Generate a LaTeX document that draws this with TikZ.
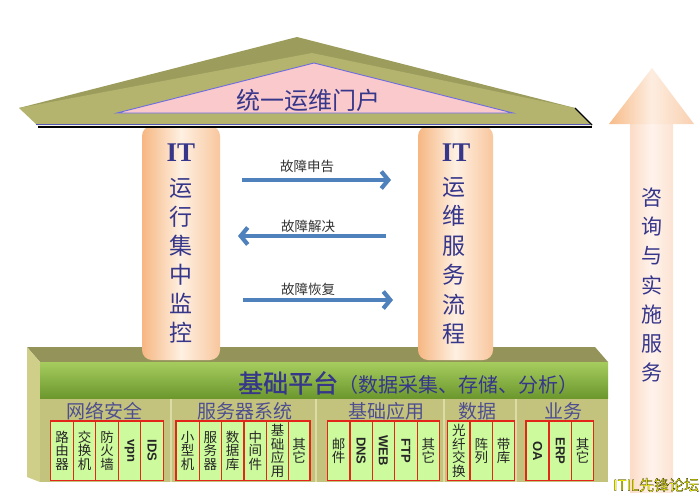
\documentclass[tikz,border=0pt]{standalone}
\usepackage{fontspec}
\setmainfont{Noto Sans CJK SC}
\newfontfamily\latinsans{Liberation Sans}
\newfontfamily\latinserif{Liberation Serif}
\newfontfamily\cjkbold[FakeBold=1.2]{Noto Sans CJK SC}
\newfontfamily\wmfont[FakeBold=1.3]{Noto Sans CJK SC}
\usetikzlibrary{arrows.meta}

\definecolor{navy}{HTML}{36368A}
\definecolor{catnavy}{HTML}{4E4E90}
\definecolor{roofdark}{HTML}{9C9C5C}
\definecolor{roofface}{HTML}{B4B46F}
\definecolor{pinkfill}{HTML}{F9C9CB}
\definecolor{pinkline}{HTML}{6C6CE0}
\definecolor{pilL}{HTML}{F6B782}
\definecolor{pilM}{HTML}{FEF0E2}
\definecolor{pilR}{HTML}{F8C79E}
\definecolor{arrowblue}{HTML}{4F81BD}
\definecolor{basetop}{HTML}{94945A}
\definecolor{baseleft}{HTML}{CFCF8A}
\definecolor{basefront}{HTML}{C4C37D}
\definecolor{greenT}{HTML}{A6CC5E}
\definecolor{greenB}{HTML}{6C982E}
\definecolor{cellfill}{HTML}{CCFA9C}
\definecolor{cellred}{HTML}{E3261A}
\definecolor{divider}{HTML}{DCDCA6}
\definecolor{shaftL}{HTML}{FBDCC6}
\definecolor{shaftM}{HTML}{FFF3EC}
\definecolor{shaftR}{HTML}{FCE3D3}
\definecolor{headL}{HTML}{F7BB88}
\definecolor{headM}{HTML}{FDEDE0}
\definecolor{headR}{HTML}{F9D0B0}
\definecolor{wmyellow}{HTML}{FFFF00}

\newcommand\lat[1]{\rotatebox{-90}{\latinsans\bfseries\fontsize{13}{13}\selectfont #1}}
\newcommand\cellnode[4]{\node[cellbox, minimum width={(#3-#2)*1pt}] (#1) at ({(#2+#3)/2},450.75) {#4};}

\tikzset{
  vtext/.style={align=center, inner sep=0pt, text=navy},
  cellbox/.style={draw=cellred, line width=1.2pt, fill=cellfill, minimum height=59.5pt,
    inner sep=0pt, align=center, text=black!85, font=\fontsize{13.5}{13.5}\selectfont},
  catlabel/.style={inner sep=0pt, text=catnavy, font=\fontsize{19}{19}\selectfont},
  flowarrow/.style={draw=arrowblue, line width=4.2pt, -{Straight Barb[length=7pt,width=17pt]}},
  flowlabel/.style={inner sep=0pt, text=black!80, font=\fontsize{13.5}{13.5}\selectfont},
  pillar/.style={rounded corners=10pt, left color=pilL, right color=pilR, middle color=pilM}
}

\begin{document}
\begin{tikzpicture}[x=1pt,y=-1pt]
\useasboundingbox (0,0) rectangle (700,495);
\fill[white] (0,0) rectangle (700,495);

% big upward arrow
\shade[left color=shaftL, right color=shaftR, middle color=shaftM] (630,123) rectangle (673,492);
\shade[left color=headL, right color=headR, middle color=headM] (652,68) -- (694,124) -- (609,124) -- cycle;
\node[vtext, font=\fontsize{21}{29.3}\selectfont] (consult) at (652,285) {咨\\询\\与\\实\\施\\服\\务};

% base platform
\fill[basetop] (27,347) -- (595,347) -- (608,362) -- (40,362) -- cycle;
\fill[baseleft] (27,347) -- (40,362) -- (40,482) -- (27,477) -- cycle;
\fill[basefront] (40,362) rectangle (608,482);
\shade[top color=greenT, bottom color=greenB] (40,362) rectangle (608,398);
\foreach \dx in {171,316,444,516} \draw[divider, line width=1.5pt] (\dx,399) -- (\dx,482);

\node[anchor=west, inner sep=0pt, text=navy] (platform) at (238,383)
  {{\cjkbold\fontsize{25}{25}\selectfont 基础平台}{\fontsize{20}{20}\selectfont （数据采集、存储、分析）}};

\node[catlabel] (catnet) at (104,411) {网络安全};
\node[catlabel] (catsrv) at (245,411) {服务器系统};
\node[catlabel] (catapp) at (386,411) {基础应用};
\node[catlabel] (catdat) at (477,411) {数据};
\node[catlabel] (catbiz) at (563,411) {业务};

\cellnode{c1}{50.7}{73.3}{路\\由\\器}
\cellnode{c2}{73.3}{95.7}{交\\换\\机}
\cellnode{c3}{95.7}{118.3}{防\\火\\墙}
\cellnode{c4}{118.3}{140.7}{\lat{vpn}}
\cellnode{c5}{140.7}{163.3}{\lat{IDS}}

\cellnode{s1}{176}{199.3}{小\\型\\机}
\cellnode{s2}{199.3}{221.3}{服\\务\\器}
\cellnode{s3}{221.3}{244}{数\\据\\库}
\cellnode{s4}{244}{266.7}{中\\间\\件}
\cellnode{s5}{266.7}{288.3}{基\\础\\应\\用}
\cellnode{s6}{288.3}{310}{其\\它}

\cellnode{a1}{327.3}{350}{邮\\件}
\cellnode{a2}{350}{372.3}{\lat{DNS}}
\cellnode{a3}{372.3}{394.3}{\lat{WEB}}
\cellnode{a4}{394.3}{417.3}{\lat{FTP}}
\cellnode{a5}{417.3}{439.3}{其\\它}

\cellnode{d1}{447.7}{470}{光\\纤\\交\\换}
\cellnode{d2}{470}{492.7}{阵\\列}
\cellnode{d3}{492.7}{514.3}{带\\库}

\cellnode{b1}{526}{549}{\lat{OA}}
\cellnode{b2}{549}{571.7}{\lat{ERP}}
\cellnode{b3}{571.7}{593.3}{其\\它}

% pillars
\shade[pillar] (142,126) rectangle (220,360);
\shade[pillar] (418,126) rectangle (493,360);
\node[inner sep=0pt, text=navy, font=\latinserif\bfseries\fontsize{27}{27}\selectfont] (itL) at (181,153) {IT};
\node[vtext, font=\fontsize{23}{29}\selectfont] (monitor) at (181,261) {运\\行\\集\\中\\监\\控};
\node[inner sep=0pt, text=navy, font=\latinserif\bfseries\fontsize{27}{27}\selectfont] (itR) at (456,153) {IT};
\node[vtext, font=\fontsize{23}{29.5}\selectfont] (process) at (454,261) {运\\维\\服\\务\\流\\程};

% flows between pillars
\coordinate (f1s) at (242,180); \coordinate (f1e) at (391,180);
\coordinate (f2s) at (386,236); \coordinate (f2e) at (238,236);
\coordinate (f3s) at (243,300); \coordinate (f3e) at (393,300);
\draw[flowarrow] (f1s) -- (f1e);
\draw[flowarrow] (f2s) -- (f2e);
\draw[flowarrow] (f3s) -- (f3e);
\node[flowlabel] (l1) at (307,166) {故障申告};
\node[flowlabel] (l2) at (308,226) {故障解决};
\node[flowlabel] (l3) at (308,289) {故障恢复};

% roof
\fill[roofdark] (19,108) -- (297,37) -- (575,108) -- cycle;
\fill[roofface] (19,108) -- (312,53) -- (575,108) -- (592,125) -- (37,125) -- cycle;
\draw[black, line width=1.2pt] (575,108) -- (592,125);
\draw[black, line width=2pt] (38,126.5) -- (592,126.5);
\draw[pinkline!80!black, line width=0.8pt] (36,124.6) -- (590,124.6);
\draw[fill=pinkfill, draw=pinkline, line width=0.9pt] (117,113) -- (314,63) -- (513,113) -- cycle;
\node[inner sep=0pt, text=navy, font=\fontsize{24}{24}\selectfont] (portal) at (308,100) {统一运维门户};

% watermark
\node[anchor=west, inner sep=0pt, font=\wmfont\fontsize{15}{15}\selectfont] (wm) at (613,485)
  {\color{wmyellow}\special{pdf:code 0 0 0 RG}ITIL先锋论坛};
\end{tikzpicture}
\end{document}
